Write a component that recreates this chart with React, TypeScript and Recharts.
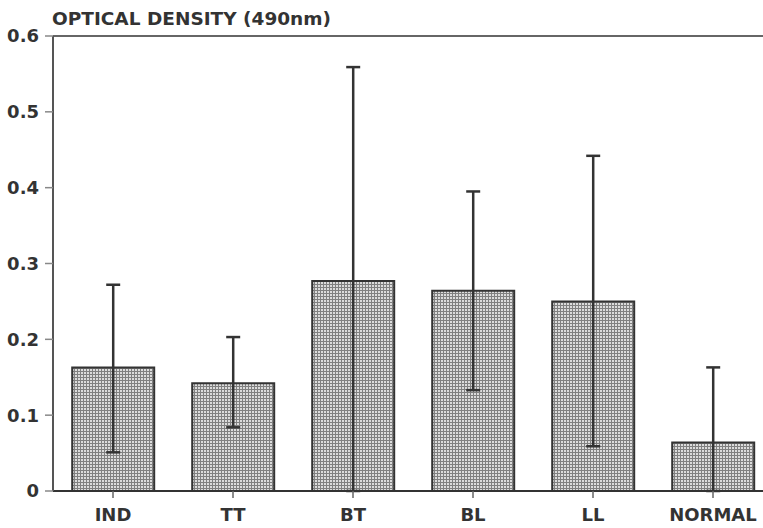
import React from 'react';
import { BarChart, Bar, XAxis, YAxis, ErrorBar, ReferenceLine } from 'recharts';

// groups along the x axis
const groups = ['IND', 'TT', 'BT', 'BL', 'LL', 'NORMAL'];
// mean optical density per group
const means = [0.163, 0.142, 0.277, 0.264, 0.250, 0.064];
// lower / upper end of the error bars
const lows = [0.051, 0.084, 0.0, 0.133, 0.059, 0.0];
const highs = [0.272, 0.203, 0.559, 0.395, 0.442, 0.163];
const yTicks = [0, 0.1, 0.2, 0.3, 0.4, 0.5, 0.6];

const data = groups.map((g, i) => ({
    name: g,
    value: means[i],
    err: [means[i] - lows[i], highs[i] - means[i]],
}));

const FONT = '"DejaVu Sans", sans-serif';
const INK = '#333';

export default function App() {
    return (
        <div style={{ position: 'fixed', left: 0, top: 0, width: 763, height: 528, overflow: 'hidden', background: '#fff' }}>
            {/* stipple texture for the bars */}
            <svg width={0} height={0} style={{ position: 'absolute' }}>
                <defs>
                    <pattern id="stipple" width={3} height={3} patternUnits="userSpaceOnUse">
                        <rect x={0} y={0} width={3} height={3} fill="#808080" />
                        <rect x={0} y={0} width={2} height={2} fill="#dcdcdc" />
                    </pattern>
                </defs>
            </svg>
            <div style={{
                position: 'absolute', left: 52, top: 10, fontFamily: FONT, fontWeight: 'bold',
                fontSize: 18.5, lineHeight: 1, color: INK, whiteSpace: 'nowrap',
            }}>
                OPTICAL DENSITY (490nm)
            </div>
            <BarChart
                width={780}
                height={528}
                data={data}
                margin={{ top: 36, right: 7, left: 0, bottom: 0 }}
                barCategoryGap="16%"
            >
                <ReferenceLine y={0.6} stroke="#666" strokeWidth={2} ifOverflow="visible" />
                <XAxis
                    dataKey="name"
                    height={37}
                    axisLine={{ stroke: INK, strokeWidth: 2 }}
                    tickLine={{ stroke: '#666', strokeWidth: 1.5 }}
                    tickSize={7}
                    tickMargin={10}
                    tick={{ fill: INK, fontFamily: FONT, fontWeight: 'bold', fontSize: 18 }}
                    interval={0}
                />
                <YAxis
                    width={53}
                    domain={[0, 0.6]}
                    ticks={yTicks}
                    allowDataOverflow
                    axisLine={{ stroke: '#555', strokeWidth: 2 }}
                    tickLine={{ stroke: '#888', strokeWidth: 1.5 }}
                    tickSize={8}
                    tickMargin={6}
                    tickFormatter={(v: number) => (v === 0 ? '0' : v.toFixed(1))}
                    tick={{ fill: INK, fontFamily: FONT, fontWeight: 'bold', fontSize: 18 }}
                />
                <Bar dataKey="value" fill="url(#stipple)" stroke={INK} strokeWidth={2} isAnimationActive={false}>
                    <ErrorBar dataKey="err" direction="y" width={7} stroke={INK} strokeWidth={2.5} />
                </Bar>
            </BarChart>
        </div>
    );
}
